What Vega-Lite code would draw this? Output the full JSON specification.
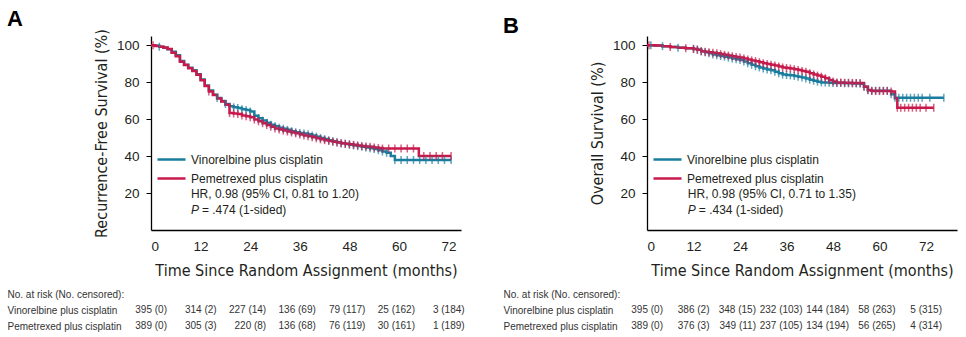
{
  "$schema": "https://vega.github.io/schema/vega-lite/v6.json",
  "background": "white",
  "padding": {"left": 7, "top": 7, "right": 2, "bottom": 0},
  "config": {
    "view": {"stroke": null},
    "font": "Liberation Sans",
    "axis": {"domainColor": "#000", "domainWidth": 1.3, "tickColor": "#000", "labelColor": "#231f20", "titleColor": "#231f20", "grid": false, "labelFontSize": 13.5, "titleFont": "DejaVu Sans Condensed, Liberation Sans Narrow, Liberation Sans", "titleFontSize": 16, "titleFontWeight": "normal"},
    "legend": {"orient": "none", "legendX": 12, "legendY": 115, "title": null, "symbolType": "M-2,0H2", "symbolSize": 196, "symbolStrokeWidth": 2.5, "labelFontSize": 12, "labelOffset": 11, "rowPadding": 4, "labelColor": "#231f20"},
    "title": {"fontSize": 22, "fontWeight": "bold", "anchor": "start", "frame": "bounds", "color": "#000", "offset": -2}
  },
  "datasets": {
    "rfs": [
      {"arm":"V","t":0,"s":100,"c":0},{"arm":"V","t":1,"s":99.7,"c":0},{"arm":"V","t":2,"s":99.2,"c":1},{"arm":"V","t":3,"s":98.7,"c":0},{"arm":"V","t":4,"s":97.8,"c":0},{"arm":"V","t":5,"s":96.5,"c":0},{"arm":"V","t":6,"s":94.6,"c":0},{"arm":"V","t":7,"s":91.5,"c":0},{"arm":"V","t":8,"s":89.5,"c":0},{"arm":"V","t":9,"s":87.8,"c":0},{"arm":"V","t":10,"s":86.4,"c":0},{"arm":"V","t":11,"s":84.3,"c":0},{"arm":"V","t":12,"s":81.5,"c":0},{"arm":"V","t":13,"s":78.2,"c":0},{"arm":"V","t":14,"s":75.5,"c":0},{"arm":"V","t":15,"s":73.2,"c":0},{"arm":"V","t":16,"s":71.5,"c":1},{"arm":"V","t":17,"s":69.8,"c":0},{"arm":"V","t":18,"s":68.2,"c":1},{"arm":"V","t":19,"s":67.0,"c":0},{"arm":"V","t":20,"s":66.4,"c":1},{"arm":"V","t":21,"s":66.0,"c":1},{"arm":"V","t":22,"s":65.4,"c":1},{"arm":"V","t":23,"s":65.0,"c":1},{"arm":"V","t":24,"s":64.2,"c":1},{"arm":"V","t":25,"s":61.8,"c":1},{"arm":"V","t":26,"s":60.5,"c":1},{"arm":"V","t":27,"s":59.2,"c":1},{"arm":"V","t":28,"s":58.0,"c":1},{"arm":"V","t":29,"s":57.0,"c":1},{"arm":"V","t":30,"s":56.2,"c":1},{"arm":"V","t":31,"s":55.4,"c":1},{"arm":"V","t":32,"s":54.8,"c":1},{"arm":"V","t":33,"s":54.2,"c":1},{"arm":"V","t":34,"s":53.5,"c":1},{"arm":"V","t":35,"s":52.9,"c":1},{"arm":"V","t":36,"s":52.5,"c":1},{"arm":"V","t":37,"s":52.2,"c":1},{"arm":"V","t":38,"s":51.8,"c":1},{"arm":"V","t":39,"s":51.2,"c":1},{"arm":"V","t":40,"s":50.5,"c":1},{"arm":"V","t":41,"s":49.8,"c":1},{"arm":"V","t":42,"s":49.2,"c":1},{"arm":"V","t":43,"s":48.6,"c":1},{"arm":"V","t":44,"s":48.0,"c":1},{"arm":"V","t":45,"s":47.5,"c":1},{"arm":"V","t":46,"s":47.0,"c":1},{"arm":"V","t":47,"s":46.6,"c":1},{"arm":"V","t":48,"s":46.2,"c":1},{"arm":"V","t":49,"s":45.8,"c":1},{"arm":"V","t":50,"s":45.4,"c":1},{"arm":"V","t":51,"s":45.0,"c":1},{"arm":"V","t":52,"s":44.6,"c":1},{"arm":"V","t":53,"s":44.2,"c":1},{"arm":"V","t":54,"s":43.8,"c":1},{"arm":"V","t":55,"s":43.2,"c":1},{"arm":"V","t":56,"s":42.5,"c":1},{"arm":"V","t":57,"s":41.8,"c":1},{"arm":"V","t":58,"s":40.0,"c":0},{"arm":"V","t":59,"s":37.9,"c":1},{"arm":"V","t":60.5,"s":37.9,"c":1},{"arm":"V","t":62,"s":37.9,"c":1},{"arm":"V","t":63.5,"s":37.9,"c":1},{"arm":"V","t":65,"s":37.9,"c":1},{"arm":"V","t":66.5,"s":37.9,"c":1},{"arm":"V","t":68,"s":37.9,"c":1},{"arm":"V","t":69.5,"s":37.9,"c":1},{"arm":"V","t":71,"s":37.9,"c":1},{"arm":"V","t":72.6,"s":37.9,"c":1},
      {"arm":"P","t":0,"s":100,"c":0},{"arm":"P","t":0.5,"s":100,"c":1},{"arm":"P","t":1,"s":99.6,"c":0},{"arm":"P","t":2,"s":99.2,"c":0},{"arm":"P","t":3,"s":98.8,"c":0},{"arm":"P","t":4,"s":97.9,"c":0},{"arm":"P","t":5,"s":96.0,"c":0},{"arm":"P","t":6,"s":94.0,"c":0},{"arm":"P","t":7,"s":91.0,"c":0},{"arm":"P","t":8,"s":89.3,"c":0},{"arm":"P","t":9,"s":87.5,"c":0},{"arm":"P","t":10,"s":86.0,"c":0},{"arm":"P","t":11,"s":84.0,"c":0},{"arm":"P","t":12,"s":81.0,"c":0},{"arm":"P","t":13,"s":78.0,"c":0},{"arm":"P","t":14,"s":75.0,"c":1},{"arm":"P","t":15,"s":73.0,"c":0},{"arm":"P","t":16,"s":71.2,"c":0},{"arm":"P","t":17,"s":69.5,"c":0},{"arm":"P","t":18,"s":67.8,"c":0},{"arm":"P","t":19,"s":63.3,"c":1},{"arm":"P","t":20,"s":63.1,"c":1},{"arm":"P","t":21,"s":62.8,"c":1},{"arm":"P","t":22,"s":62.0,"c":1},{"arm":"P","t":23,"s":61.6,"c":1},{"arm":"P","t":24,"s":61.0,"c":1},{"arm":"P","t":25,"s":59.8,"c":1},{"arm":"P","t":26,"s":58.8,"c":1},{"arm":"P","t":27,"s":57.8,"c":1},{"arm":"P","t":28,"s":56.8,"c":1},{"arm":"P","t":29,"s":55.9,"c":1},{"arm":"P","t":30,"s":55.0,"c":1},{"arm":"P","t":31,"s":54.4,"c":1},{"arm":"P","t":32,"s":53.8,"c":1},{"arm":"P","t":33,"s":53.3,"c":1},{"arm":"P","t":34,"s":52.8,"c":1},{"arm":"P","t":35,"s":52.3,"c":1},{"arm":"P","t":36,"s":51.7,"c":1},{"arm":"P","t":37,"s":51.2,"c":1},{"arm":"P","t":38,"s":50.8,"c":1},{"arm":"P","t":39,"s":50.2,"c":1},{"arm":"P","t":40,"s":49.6,"c":1},{"arm":"P","t":41,"s":49.1,"c":1},{"arm":"P","t":42,"s":48.6,"c":1},{"arm":"P","t":43,"s":48.2,"c":1},{"arm":"P","t":44,"s":47.8,"c":1},{"arm":"P","t":45,"s":47.4,"c":1},{"arm":"P","t":46,"s":47.0,"c":1},{"arm":"P","t":47,"s":46.7,"c":1},{"arm":"P","t":48,"s":46.4,"c":1},{"arm":"P","t":49,"s":46.1,"c":1},{"arm":"P","t":50,"s":45.8,"c":1},{"arm":"P","t":51,"s":45.5,"c":1},{"arm":"P","t":52,"s":45.2,"c":1},{"arm":"P","t":53,"s":45.0,"c":1},{"arm":"P","t":54,"s":44.7,"c":1},{"arm":"P","t":55,"s":44.4,"c":1},{"arm":"P","t":56,"s":44.1,"c":1},{"arm":"P","t":57.5,"s":44.1,"c":1},{"arm":"P","t":59,"s":44.1,"c":1},{"arm":"P","t":60.5,"s":44.1,"c":1},{"arm":"P","t":62,"s":44.1,"c":1},{"arm":"P","t":63.5,"s":44.1,"c":1},{"arm":"P","t":64.8,"s":40.1,"c":0},{"arm":"P","t":66,"s":40.1,"c":1},{"arm":"P","t":67.5,"s":40.1,"c":1},{"arm":"P","t":69,"s":40.1,"c":1},{"arm":"P","t":70.5,"s":40.1,"c":1},{"arm":"P","t":72.6,"s":40.1,"c":1}
    ],
    "os": [
      {"arm":"V","t":0,"s":100,"c":0},{"arm":"V","t":1,"s":100,"c":1},{"arm":"V","t":2,"s":99.8,"c":0},{"arm":"V","t":4,"s":99.5,"c":1},{"arm":"V","t":6,"s":99.0,"c":0},{"arm":"V","t":8,"s":98.7,"c":1},{"arm":"V","t":10,"s":98.4,"c":0},{"arm":"V","t":12,"s":98.0,"c":1},{"arm":"V","t":13,"s":97.6,"c":1},{"arm":"V","t":14,"s":96.8,"c":1},{"arm":"V","t":15,"s":96.2,"c":1},{"arm":"V","t":16,"s":95.6,"c":1},{"arm":"V","t":17,"s":95.0,"c":1},{"arm":"V","t":18,"s":94.6,"c":1},{"arm":"V","t":19,"s":94.2,"c":1},{"arm":"V","t":20,"s":93.8,"c":1},{"arm":"V","t":21,"s":93.3,"c":1},{"arm":"V","t":22,"s":92.8,"c":1},{"arm":"V","t":23,"s":92.4,"c":1},{"arm":"V","t":24,"s":92.0,"c":1},{"arm":"V","t":25,"s":91.2,"c":1},{"arm":"V","t":26,"s":90.3,"c":1},{"arm":"V","t":27,"s":89.4,"c":1},{"arm":"V","t":28,"s":88.6,"c":1},{"arm":"V","t":29,"s":88.0,"c":1},{"arm":"V","t":30,"s":87.4,"c":1},{"arm":"V","t":31,"s":86.9,"c":1},{"arm":"V","t":32,"s":86.4,"c":1},{"arm":"V","t":33,"s":85.6,"c":1},{"arm":"V","t":34,"s":84.8,"c":1},{"arm":"V","t":35,"s":84.1,"c":1},{"arm":"V","t":36,"s":83.9,"c":1},{"arm":"V","t":37,"s":83.7,"c":1},{"arm":"V","t":38,"s":83.4,"c":1},{"arm":"V","t":39,"s":83.0,"c":1},{"arm":"V","t":40,"s":82.5,"c":1},{"arm":"V","t":41,"s":82.0,"c":1},{"arm":"V","t":42,"s":81.3,"c":1},{"arm":"V","t":43,"s":80.8,"c":1},{"arm":"V","t":44,"s":80.3,"c":1},{"arm":"V","t":45,"s":79.9,"c":1},{"arm":"V","t":46,"s":79.8,"c":1},{"arm":"V","t":47,"s":79.7,"c":1},{"arm":"V","t":48,"s":79.6,"c":1},{"arm":"V","t":49,"s":79.5,"c":1},{"arm":"V","t":50,"s":79.5,"c":1},{"arm":"V","t":51,"s":79.4,"c":1},{"arm":"V","t":52,"s":79.4,"c":1},{"arm":"V","t":53,"s":79.3,"c":1},{"arm":"V","t":54,"s":79.3,"c":1},{"arm":"V","t":55,"s":79.2,"c":1},{"arm":"V","t":56,"s":77.5,"c":1},{"arm":"V","t":57,"s":75.6,"c":1},{"arm":"V","t":58,"s":75.4,"c":1},{"arm":"V","t":59,"s":75.4,"c":1},{"arm":"V","t":60,"s":75.4,"c":1},{"arm":"V","t":61,"s":75.4,"c":1},{"arm":"V","t":62,"s":75.4,"c":1},{"arm":"V","t":63,"s":73.5,"c":1},{"arm":"V","t":64,"s":71.6,"c":1},{"arm":"V","t":65,"s":71.6,"c":1},{"arm":"V","t":66,"s":71.6,"c":1},{"arm":"V","t":67,"s":71.6,"c":1},{"arm":"V","t":68,"s":71.6,"c":1},{"arm":"V","t":69,"s":71.6,"c":1},{"arm":"V","t":70,"s":71.6,"c":1},{"arm":"V","t":71,"s":71.6,"c":1},{"arm":"V","t":73,"s":71.6,"c":1},{"arm":"V","t":76.6,"s":71.6,"c":1},
      {"arm":"P","t":0,"s":100,"c":0},{"arm":"P","t":0.5,"s":100,"c":1},{"arm":"P","t":2,"s":99.8,"c":0},{"arm":"P","t":4,"s":99.5,"c":0},{"arm":"P","t":6,"s":99.0,"c":1},{"arm":"P","t":8,"s":98.7,"c":0},{"arm":"P","t":10,"s":98.4,"c":1},{"arm":"P","t":12,"s":98.0,"c":1},{"arm":"P","t":13,"s":97.6,"c":1},{"arm":"P","t":14,"s":96.8,"c":1},{"arm":"P","t":15,"s":96.5,"c":1},{"arm":"P","t":16,"s":96.2,"c":1},{"arm":"P","t":17,"s":95.9,"c":1},{"arm":"P","t":18,"s":95.6,"c":1},{"arm":"P","t":19,"s":95.2,"c":1},{"arm":"P","t":20,"s":94.8,"c":1},{"arm":"P","t":21,"s":94.4,"c":1},{"arm":"P","t":22,"s":94.0,"c":1},{"arm":"P","t":23,"s":93.6,"c":1},{"arm":"P","t":24,"s":93.3,"c":1},{"arm":"P","t":25,"s":92.8,"c":1},{"arm":"P","t":26,"s":92.3,"c":1},{"arm":"P","t":27,"s":91.8,"c":1},{"arm":"P","t":28,"s":91.4,"c":1},{"arm":"P","t":29,"s":90.8,"c":1},{"arm":"P","t":30,"s":90.3,"c":1},{"arm":"P","t":31,"s":89.9,"c":1},{"arm":"P","t":32,"s":89.5,"c":1},{"arm":"P","t":33,"s":89.0,"c":1},{"arm":"P","t":34,"s":88.5,"c":1},{"arm":"P","t":35,"s":88.0,"c":1},{"arm":"P","t":36,"s":87.7,"c":1},{"arm":"P","t":37,"s":87.4,"c":1},{"arm":"P","t":38,"s":87.0,"c":1},{"arm":"P","t":39,"s":86.6,"c":1},{"arm":"P","t":40,"s":86.1,"c":1},{"arm":"P","t":41,"s":85.6,"c":1},{"arm":"P","t":42,"s":84.8,"c":1},{"arm":"P","t":43,"s":84.2,"c":1},{"arm":"P","t":44,"s":83.6,"c":1},{"arm":"P","t":45,"s":83.0,"c":1},{"arm":"P","t":46,"s":82.2,"c":1},{"arm":"P","t":47,"s":81.2,"c":1},{"arm":"P","t":48,"s":80.4,"c":1},{"arm":"P","t":49,"s":79.8,"c":1},{"arm":"P","t":50,"s":79.8,"c":1},{"arm":"P","t":51,"s":79.7,"c":1},{"arm":"P","t":52,"s":79.7,"c":1},{"arm":"P","t":53,"s":79.6,"c":1},{"arm":"P","t":54,"s":79.6,"c":1},{"arm":"P","t":55,"s":79.5,"c":1},{"arm":"P","t":56,"s":77.6,"c":1},{"arm":"P","t":57,"s":75.8,"c":1},{"arm":"P","t":58,"s":75.2,"c":1},{"arm":"P","t":59,"s":75.2,"c":1},{"arm":"P","t":60,"s":75.2,"c":1},{"arm":"P","t":61,"s":75.2,"c":1},{"arm":"P","t":62,"s":75.2,"c":1},{"arm":"P","t":63,"s":75.0,"c":1},{"arm":"P","t":64,"s":71.3,"c":0},{"arm":"P","t":64.6,"s":66.2,"c":1},{"arm":"P","t":65.5,"s":66.2,"c":1},{"arm":"P","t":66.5,"s":66.2,"c":1},{"arm":"P","t":67.5,"s":66.2,"c":1},{"arm":"P","t":68.5,"s":66.2,"c":1},{"arm":"P","t":69.5,"s":66.2,"c":1},{"arm":"P","t":70.5,"s":66.2,"c":1},{"arm":"P","t":72,"s":66.2,"c":1},{"arm":"P","t":74,"s":66.2,"c":1}
    ],
    "riskA": [
      {"row":"Vinorelbine plus cisplatin","t":0,"n":"395 (0)"},{"row":"Vinorelbine plus cisplatin","t":12,"n":"314 (2)"},{"row":"Vinorelbine plus cisplatin","t":24,"n":"227 (14)"},{"row":"Vinorelbine plus cisplatin","t":36,"n":"136 (69)"},{"row":"Vinorelbine plus cisplatin","t":48,"n":"79 (117)"},{"row":"Vinorelbine plus cisplatin","t":60,"n":"25 (162)"},{"row":"Vinorelbine plus cisplatin","t":72,"n":"3 (184)"},
      {"row":"Pemetrexed plus cisplatin","t":0,"n":"389 (0)"},{"row":"Pemetrexed plus cisplatin","t":12,"n":"305 (3)"},{"row":"Pemetrexed plus cisplatin","t":24,"n":"220 (8)"},{"row":"Pemetrexed plus cisplatin","t":36,"n":"136 (68)"},{"row":"Pemetrexed plus cisplatin","t":48,"n":"76 (119)"},{"row":"Pemetrexed plus cisplatin","t":60,"n":"30 (161)"},{"row":"Pemetrexed plus cisplatin","t":72,"n":"1 (189)"}
    ],
    "riskB": [
      {"row":"Vinorelbine plus cisplatin","t":0,"n":"395 (0)"},{"row":"Vinorelbine plus cisplatin","t":12,"n":"386 (2)"},{"row":"Vinorelbine plus cisplatin","t":24,"n":"348 (15)"},{"row":"Vinorelbine plus cisplatin","t":36,"n":"232 (103)"},{"row":"Vinorelbine plus cisplatin","t":48,"n":"144 (184)"},{"row":"Vinorelbine plus cisplatin","t":60,"n":"58 (263)"},{"row":"Vinorelbine plus cisplatin","t":72,"n":"5 (315)"},
      {"row":"Pemetrexed plus cisplatin","t":0,"n":"389 (0)"},{"row":"Pemetrexed plus cisplatin","t":12,"n":"376 (3)"},{"row":"Pemetrexed plus cisplatin","t":24,"n":"349 (11)"},{"row":"Pemetrexed plus cisplatin","t":36,"n":"237 (105)"},{"row":"Pemetrexed plus cisplatin","t":48,"n":"134 (194)"},{"row":"Pemetrexed plus cisplatin","t":60,"n":"56 (265)"},{"row":"Pemetrexed plus cisplatin","t":72,"n":"4 (314)"}
    ]
  },
  "resolve": {"scale": {"color": "independent", "x": "independent", "y": "independent"}, "legend": {"color": "independent"}},
  "spacing": 38,
  "hconcat": [
    {
      "title": {"text": "A"},
      "spacing": 7,
      "resolve": {"scale": {"x": "independent", "y": "independent"}},
      "vconcat": [
        {
          "width": 310, "height": 194,
          "layer": [
            {"data": {"name": "rfs"},
             "mark": {"type": "line", "interpolate": "step-after", "strokeWidth": 2.5},
             "encoding": {
               "x": {"field": "t", "type": "quantitative", "scale": {"domain": [0, 75], "nice": false}, "axis": {"title": "Time Since Random Assignment (months)", "values": [0,12,24,36,48,60,72], "ticks": false, "labelPadding": 9, "titlePadding": 10}},
               "y": {"field": "s", "type": "quantitative", "scale": {"domain": [0, 105], "nice": false}, "axis": {"title": "Recurrence-Free Survival (%)", "values": [20,40,60,80,100], "tickSize": 5, "labelPadding": 7, "titlePadding": 7}},
               "color": {"field": "arm", "type": "nominal", "scale": {"domain": ["V","P"], "range": ["#1b7d9e", "#c8194b"]}, "legend": {"labelExpr": "datum.label == 'V' ? 'Vinorelbine plus cisplatin' : 'Pemetrexed plus cisplatin'"}}}},
            {"data": {"name": "rfs"},
             "transform": [{"filter": "datum.c == 1"}],
             "mark": {"type": "tick", "orient": "vertical", "size": 8, "thickness": 1.5},
             "encoding": {
               "x": {"field": "t", "type": "quantitative"},
               "y": {"field": "s", "type": "quantitative"},
               "color": {"field": "arm", "type": "nominal", "legend": null}}},
            {"data": {"values": [{"label": "HR, 0.98 (95% CI, 0.81 to 1.20)"}]}, "mark": {"type": "text", "align": "left", "baseline": "middle", "fontSize": 12, "color": "#231f20"},
             "encoding": {"x": {"datum": 9.66}, "y": {"datum": 19.6}, "text": {"field": "label"}}},
            {"data": {"values": [{"label": "P"}]}, "mark": {"type": "text", "align": "left", "baseline": "middle", "fontSize": 12, "fontStyle": "italic", "color": "#231f20"},
             "encoding": {"x": {"datum": 9.66}, "y": {"datum": 10.6}, "text": {"field": "label"}}},
            {"data": {"values": [{"label": "= .474 (1-sided)"}]}, "mark": {"type": "text", "align": "left", "baseline": "middle", "fontSize": 12, "dx": 11, "color": "#231f20"},
             "encoding": {"x": {"datum": 9.66}, "y": {"datum": 10.6}, "text": {"field": "label"}}}
          ]
        },
        {
          "width": 310, "height": 48,
          "data": {"name": "riskA"},
          "mark": {"type": "text", "align": "right", "baseline": "middle", "dx": 16, "fontSize": 10, "color": "#333"},
          "encoding": {
            "x": {"field": "t", "type": "quantitative", "scale": {"domain": [0, 75], "nice": false}, "axis": null},
            "y": {"field": "row", "type": "nominal", "scale": {"type": "point", "domain": ["No. at risk (No. censored):", "Vinorelbine plus cisplatin", "Pemetrexed plus cisplatin"]}, "axis": {"title": null, "domain": false, "ticks": false, "tickSize": 0, "labelPadding": 144, "labelAlign": "left", "labelFontSize": 10, "labelColor": "#333", "labelFont": "Liberation Sans"}},
            "text": {"field": "n"}
          }
        }
      ]
    },
    {
      "title": {"text": "B"},
      "spacing": 7,
      "resolve": {"scale": {"x": "independent", "y": "independent"}},
      "vconcat": [
        {
          "width": 310, "height": 194,
          "layer": [
            {"data": {"name": "os"},
             "mark": {"type": "line", "interpolate": "step-after", "strokeWidth": 2.5},
             "encoding": {
               "x": {"field": "t", "type": "quantitative", "scale": {"domain": [0, 80], "nice": false}, "axis": {"title": "Time Since Random Assignment (months)", "values": [0,12,24,36,48,60,72], "ticks": false, "labelPadding": 9, "titlePadding": 10}},
               "y": {"field": "s", "type": "quantitative", "scale": {"domain": [0, 105], "nice": false}, "axis": {"title": "Overall Survival (%)", "values": [20,40,60,80,100], "tickSize": 5, "labelPadding": 7, "titlePadding": 7}},
               "color": {"field": "arm", "type": "nominal", "scale": {"domain": ["V","P"], "range": ["#1b7d9e", "#c8194b"]}, "legend": {"labelExpr": "datum.label == 'V' ? 'Vinorelbine plus cisplatin' : 'Pemetrexed plus cisplatin'"}}}},
            {"data": {"name": "os"},
             "transform": [{"filter": "datum.c == 1"}],
             "mark": {"type": "tick", "orient": "vertical", "size": 8, "thickness": 1.5},
             "encoding": {
               "x": {"field": "t", "type": "quantitative"},
               "y": {"field": "s", "type": "quantitative"},
               "color": {"field": "arm", "type": "nominal", "legend": null}}},
            {"data": {"values": [{"label": "HR, 0.98 (95% CI, 0.71 to 1.35)"}]}, "mark": {"type": "text", "align": "left", "baseline": "middle", "fontSize": 12, "color": "#231f20"},
             "encoding": {"x": {"datum": 10.54}, "y": {"datum": 19.6}, "text": {"field": "label"}}},
            {"data": {"values": [{"label": "P"}]}, "mark": {"type": "text", "align": "left", "baseline": "middle", "fontSize": 12, "fontStyle": "italic", "color": "#231f20"},
             "encoding": {"x": {"datum": 10.54}, "y": {"datum": 10.6}, "text": {"field": "label"}}},
            {"data": {"values": [{"label": "= .434 (1-sided)"}]}, "mark": {"type": "text", "align": "left", "baseline": "middle", "fontSize": 12, "dx": 11, "color": "#231f20"},
             "encoding": {"x": {"datum": 10.54}, "y": {"datum": 10.6}, "text": {"field": "label"}}}
          ]
        },
        {
          "width": 310, "height": 48,
          "data": {"name": "riskB"},
          "mark": {"type": "text", "align": "right", "baseline": "middle", "dx": 16, "fontSize": 10, "color": "#333"},
          "encoding": {
            "x": {"field": "t", "type": "quantitative", "scale": {"domain": [0, 80], "nice": false}, "axis": null},
            "y": {"field": "row", "type": "nominal", "scale": {"type": "point", "domain": ["No. at risk (No. censored):", "Vinorelbine plus cisplatin", "Pemetrexed plus cisplatin"]}, "axis": {"title": null, "domain": false, "ticks": false, "tickSize": 0, "labelPadding": 144, "labelAlign": "left", "labelFontSize": 10, "labelColor": "#333", "labelFont": "Liberation Sans"}},
            "text": {"field": "n"}
          }
        }
      ]
    }
  ]
}
